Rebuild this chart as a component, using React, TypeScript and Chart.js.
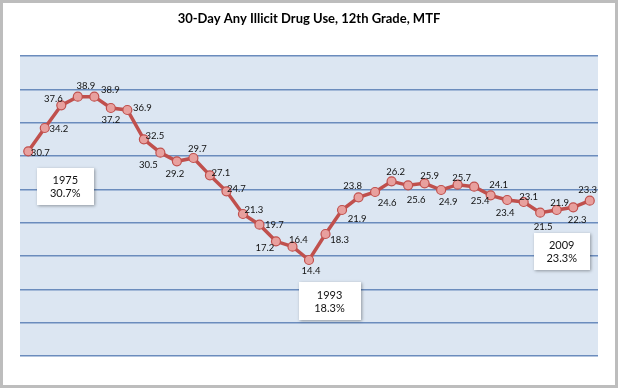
import React, { useEffect, useRef } from 'react';
import { Chart, registerables } from 'chart.js';

Chart.register(...registerables);

const TITLE = '30-Day Any Illicit Drug Use, 12th Grade, MTF';

const YEARS = [
  '1975', '1976', '1977', '1978', '1979', '1980', '1981', '1982', '1983', '1984',
  '1985', '1986', '1987', '1988', '1989', '1990', '1991', '1992', '1993', '1994',
  '1995', '1996', '1997', '1998', '1999', '2000', '2001', '2002', '2003', '2004',
  '2005', '2006', '2007', '2008', '2009',
];

const USE_PCT = [
  30.7, 34.2, 37.6, 38.9, 38.9, 37.2, 36.9, 32.5, 30.5, 29.2,
  29.7, 27.1, 24.7, 21.3, 19.7, 17.2, 16.4, 14.4, 18.3, 21.9,
  23.8, 24.6, 26.2, 25.6, 25.9, 24.9, 25.7, 25.4, 24.1, 23.4,
  23.1, 21.5, 21.9, 22.3, 23.3,
];

const Y_MIN = 0;
const Y_MAX = 45;
const Y_STEP = 5;

const CALLOUT_YEARS = ['1975', '1993', '2009'];
const CALLOUT_LABELS = ['30.7%', '18.3%', '23.3%'];

// label offsets (px) relative to each marker: [dx, dy]
const LABEL_OFFSETS: [number, number][] = [
  [12, 2], [14, 1], [-8, -6], [8, -11], [16, -7], [0, 12], [15, -2], [11, -3], [-12, 12], [-2, 13],
  [4, -9], [11, -2], [10, -2], [11, -4], [15, 0], [-11, 7], [6, -7], [2, 11], [14, 6], [15, 9],
  [-6, -11], [12, 11], [4, -9], [8, 15], [5, -7], [7, 12], [4, -7], [6, 14], [8, -10], [-2, 13],
  [5, -5], [3, 14], [3, -7], [4, 13], [-2, -11],
];

// callout box geometry relative to anchor point: [dxCenter, dyCenter, w, h]
const CALLOUT_GEOM: [number, number, number, number][] = [
  [37, 35, 57, 37],
  [4, 67, 62, 38],
  [-28, 51, 56, 37],
];

const FONT = 'Lato, "Open Sans", "Liberation Sans", sans-serif';

const decor = {
  id: 'decor',
  beforeDraw(chart: any) {
    const { ctx, chartArea: a, width, height } = chart;
    ctx.save();
    ctx.fillStyle = '#ffffff';
    ctx.fillRect(0, 0, width, height);
    ctx.fillStyle = '#dce6f2';
    ctx.fillRect(a.left, a.top, a.right - a.left, a.bottom - a.top);
    ctx.strokeStyle = '#bdbdbd';
    ctx.lineWidth = 3;
    ctx.strokeRect(1.5, 1.5, width - 3, height - 3);
    ctx.fillStyle = '#000000';
    ctx.font = `bold 13px ${FONT}`;
    ctx.textAlign = 'center';
    ctx.textBaseline = 'middle';
    ctx.fillText(TITLE, width / 2, 19);
    ctx.restore();
  },
  afterDatasetsDraw(chart: any) {
    const { ctx } = chart;
    const meta = chart.getDatasetMeta(0);
    ctx.save();
    ctx.font = `9.5px ${FONT}`;
    ctx.fillStyle = '#111111';
    ctx.textAlign = 'center';
    ctx.textBaseline = 'middle';
    meta.data.forEach((pt: any, i: number) => {
      const [dx, dy] = LABEL_OFFSETS[i] || [0, -10];
      ctx.fillText(USE_PCT[i].toFixed(1), pt.x + dx, pt.y + dy);
    });
    CALLOUT_YEARS.forEach((yr, k) => {
      const idx = YEARS.indexOf(yr);
      const pt = meta.data[idx];
      const [dx, dy, w, h] = CALLOUT_GEOM[k];
      const cx = pt.x + dx;
      const cy = pt.y + dy;
      ctx.save();
      ctx.shadowColor = 'rgba(0,0,0,0.35)';
      ctx.shadowBlur = 3;
      ctx.shadowOffsetX = 1;
      ctx.shadowOffsetY = 1;
      ctx.fillStyle = '#ffffff';
      ctx.fillRect(Math.round(cx - w / 2), Math.round(cy - h / 2), w, h);
      ctx.restore();
      ctx.font = `11px ${FONT}`;
      ctx.fillStyle = '#111111';
      ctx.fillText(yr, cx, cy - 6);
      ctx.fillText(CALLOUT_LABELS[k], cx, cy + 7);
    });
    ctx.restore();
  },
};

export default function App() {
  const ref = useRef<HTMLCanvasElement | null>(null);
  useEffect(() => {
    document.body.style.margin = '0';
    const canvas = ref.current;
    if (!canvas) return;
    const chart = new Chart(canvas, {
      type: 'line',
      data: {
        labels: YEARS,
        datasets: [
          {
            data: USE_PCT,
            borderColor: '#c0504d',
            borderWidth: 3.5,
            pointRadius: 4.5,
            pointBackgroundColor: '#e8a09e',
            pointBorderColor: '#c0504d',
            pointBorderWidth: 1.2,
            tension: 0,
          },
        ],
      },
      options: {
        responsive: false,
        maintainAspectRatio: false,
        animation: false,
        devicePixelRatio: 1,
        layout: { padding: { left: 20, right: 20, top: 56, bottom: 32 } },
        plugins: { legend: { display: false }, tooltip: { enabled: false }, title: { display: false } },
        scales: {
          x: { display: false, offset: true },
          y: {
            min: Y_MIN,
            max: Y_MAX,
            ticks: { display: false, stepSize: Y_STEP },
            grid: { color: '#6b8cbd', lineWidth: 1.5, drawTicks: false },
            border: { display: false },
          },
        },
      },
      plugins: [decor],
    });
    return () => chart.destroy();
  }, []);
  return (
    <div style={{ width: 618, height: 388 }}>
      <canvas ref={ref} width={618} height={388} style={{ display: 'block', width: 618, height: 388 }} />
    </div>
  );
}
